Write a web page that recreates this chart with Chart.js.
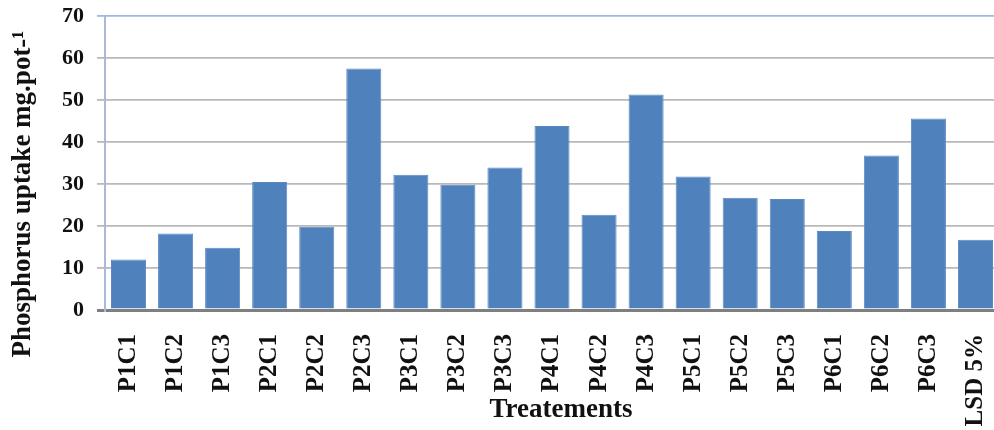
<!DOCTYPE html>
<html lang="en">
<head>
    <meta charset="UTF-8">
    <title>Phosphorus uptake</title>
    <style>
        html, body { margin: 0; padding: 0; background: #fff; overflow: hidden; }
        #wrap { width: 999px; height: 430px; }
    </style>
</head>
<body>
    <div id="wrap">
        <canvas id="mychart" width="999" height="430"></canvas>
    </div>
    <script src="https://cdn.jsdelivr.net/npm/chart.js"></script>
    <script>
        // chart data
        const treatments = ['P1C1', 'P1C2', 'P1C3', 'P2C1', 'P2C2', 'P2C3', 'P3C1', 'P3C2', 'P3C3',
                            'P4C1', 'P4C2', 'P4C3', 'P5C1', 'P5C2', 'P5C3', 'P6C1', 'P6C2', 'P6C3', 'LSD 5%'];
        const uptake = [12.0, 18.2, 14.8, 30.5, 19.8, 57.5, 32.2, 29.8, 33.9,
                        43.8, 22.7, 51.3, 31.8, 26.7, 26.4, 18.8, 36.8, 45.6, 16.7];
        const yMin = 0, yMax = 70, yStep = 10;
        const xTitle = 'Treatements';
        const yTitle = 'Phosphorus uptake mg.pot-\u00b9';

        const serif = '"Liberation Serif", "Times New Roman", serif';

        // axis titles drawn by hand so they sit where the original has them
        const titlesPlugin = {
            id: 'titles',
            afterDraw(chart) {
                const ctx = chart.ctx;
                ctx.save();
                ctx.fillStyle = '#111';
                ctx.textAlign = 'center';
                ctx.textBaseline = 'middle';
                ctx.font = 'bold 27px ' + serif;
                ctx.fillText(xTitle, 561, 410);
                ctx.translate(23, 194);
                ctx.rotate(-Math.PI / 2);
                ctx.fillText(yTitle, 0, 0);
                ctx.restore();
            }
        };

        const ctx = document.getElementById('mychart').getContext('2d');
        new Chart(ctx, {
            type: 'bar',
            data: {
                labels: treatments,
                datasets: [{
                    data: uptake,
                    backgroundColor: '#4f81bd',
                    borderColor: '#5a8ac3',
                    borderWidth: 1,
                    categoryPercentage: 1,
                    barPercentage: 0.745
                }]
            },
            options: {
                responsive: false,
                animation: false,
                layout: { padding: { top: 16, right: 0, bottom: 0, left: 0 } },
                plugins: {
                    legend: { display: false },
                    tooltip: { enabled: false }
                },
                scales: {
                    x: {
                        afterFit(scale) {
                            scale.height = 120;
                            scale.paddingLeft = 0;
                            scale.paddingRight = 0;
                        },
                        grid: { display: false, drawTicks: false },
                        border: { display: true, color: '#7f7f7f', width: 3 },
                        ticks: {
                            minRotation: 90,
                            maxRotation: 90,
                            autoSkip: false,
                            padding: 24,
                            color: '#111',
                            font: { family: serif, size: 25, weight: 'bold' }
                        }
                    },
                    y: {
                        min: yMin,
                        max: yMax,
                        afterFit(scale) {
                            scale.width = 105;
                            scale.paddingTop = 0;
                            scale.paddingBottom = 0;
                        },
                        grid: {
                            color: (c) => c.tick && c.tick.value === yMax ? '#9fb8e6' : (c.tick && c.tick.value === 0 ? '#7f7f7f' : '#b9b9b9'),
                            lineWidth: (c) => c.tick && c.tick.value === 0 ? 3 : 1.8,
                            tickLength: 8
                        },
                        border: { display: true, color: '#a9b9d6', width: 2 },
                        ticks: {
                            stepSize: yStep,
                            padding: 13,
                            color: '#111',
                            font: { family: serif, size: 22, weight: 'bold' }
                        }
                    }
                }
            },
            plugins: [titlesPlugin]
        });
    </script>
</body>
</html>
